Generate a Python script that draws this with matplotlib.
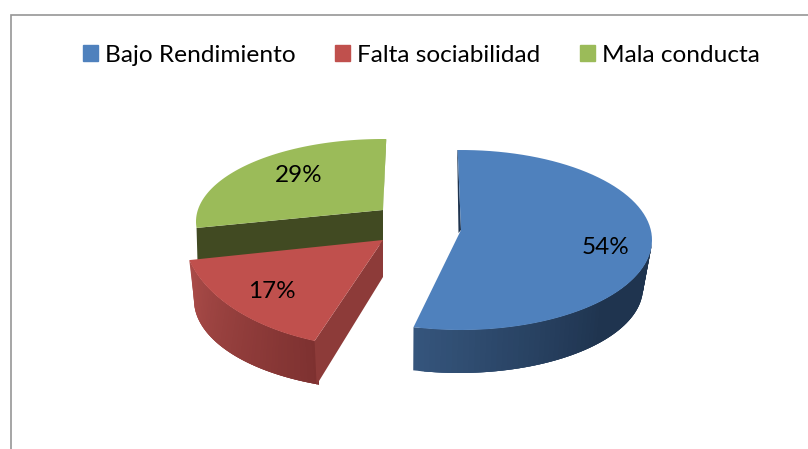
#!/usr/bin/env python3

# exploded 3d-look pie, drawn on an axes that runs in image pixels

import numpy as np
import matplotlib.pyplot as plt
from matplotlib.patches import Patch

categories = ['Bajo Rendimiento', 'Falta sociabilidad', 'Mala conducta']
values = [54, 17, 29]

colors = ['#4f81bd', '#c0504d', '#9bbb59']
label_pos = [(606, 248), (272, 291), (299, 175)]

# apex, top ellipse (cx, cy, rx, ry) and small angle corrections per slice
apex = [(461, 230), (383, 240), (383, 210)]
top_ell = [(461, 240, 191, 90), (383, 231, 200, 117), (383, 221.6, 187, 82.6)]
angle_fix = [(-1, 0), (5.6, 0), (10, 1)]


def rim(ell, a0, a1, n=80):
    t = np.radians(np.linspace(a0, a1, n))
    return ell[0] + ell[2]*np.sin(t), ell[1] - ell[3]*np.cos(t)


def wall(ell_top, ell_bot, top_range, bot_range, col_a, col_b, ramp=1.0, n=60):
    # outer wall as overlapping strips so the shading runs along the rim
    xt, yt = rim(ell_top, top_range[0], top_range[1], n+1)
    xb, yb = rim(ell_bot, bot_range[0], bot_range[1], n+1)
    ca = np.array(plt.matplotlib.colors.to_rgb(col_a))
    cb = np.array(plt.matplotlib.colors.to_rgb(col_b))
    for i in range(n):
        c = ca + (cb-ca)*min(1, i/(n*ramp))
        j = min(i+3, n)
        ax.fill([xt[i], xt[j], xb[j], xb[i]], [yt[i], yt[j], yb[j], yb[i]], color=c, lw=0)


fig = plt.figure(figsize=(8.08, 4.49), dpi=100)
ax = fig.add_axes([0, 0, 1, 1])
ax.set_xlim(0, 808)
ax.set_ylim(449, 0)
ax.axis('off')

# slice angles, clockwise from 12 o'clock
edges = np.cumsum([0] + values)*3.6
ranges = []
for i in range(3):
    ranges.append((edges[i]+angle_fix[i][0], edges[i+1]+angle_fix[i][1]))

# frame
ax.plot([10.7, 10.7, 808], [449, 14.7, 14.7], color='#969696', lw=1.2, solid_joinstyle='miter')

# green slice, its dark cut face goes down behind the red one
x, y = rim(top_ell[2], *ranges[2])
ax.fill([x[0], apex[2][0], apex[2][0], x[0]+1], [y[0], apex[2][1], apex[2][1]+35, y[0]+35],
        color='#414a22', lw=0)
ax.fill([apex[2][0], x[-1], x[-1]-1], [apex[2][1], y[-1], y[-1]+5], color='#7d9a45', lw=0)
ax.fill(np.r_[apex[2][0], x], np.r_[apex[2][1], y], color=colors[2], lw=0)

# red slice
x, y = rim(top_ell[1], *ranges[1])
wall(top_ell[1], (384, 300, 190, 90), (ranges[1][1], ranges[1][0]), (270, ranges[1][0]),
     '#ab4c49', '#7d3130')
ax.fill([apex[1][0], x[0], x[0]+2, apex[1][0]], [apex[1][1], y[0], y[0]+44, apex[1][1]+37],
        color='#8d3b39', lw=0)
ax.fill(np.r_[apex[1][0], x], np.r_[apex[1][1], y], color=colors[1], lw=0)

# blue slice
x, y = rim(top_ell[0], *ranges[0])
wall(top_ell[0], (459, 288, 184, 85), (ranges[0][1], 92), (ranges[0][1], 90),
     '#35557c', '#1f344f', ramp=0.6)
ax.fill([x[0], apex[0][0], apex[0][0]-2.5, x[0]-0.5], [y[0], apex[0][1], apex[0][1]+3, y[0]],
        color='#1f344f', lw=0)
ax.fill(np.r_[apex[0][0], x], np.r_[apex[0][1], y], color=colors[0], lw=0)

for v, p in zip(values, label_pos):
    ax.text(p[0], p[1], str(v)+'%', ha='center', va='center', family='Lato', fontsize=17.5, color='black')

handles = [Patch(color=c, label=n) for c, n in zip(colors, categories)]
fig.legend(handles=handles, loc='center', bbox_to_anchor=(421.5/808, 1-55.5/449), ncol=3,
           frameon=False, prop={'family': 'Lato', 'size': 17.6},
           handlelength=0.62, handleheight=0.62, handletextpad=0.29,
           columnspacing=1.62, borderpad=0, labelcolor='black')

fig.savefig('out.png', dpi=100)
plt.close()
